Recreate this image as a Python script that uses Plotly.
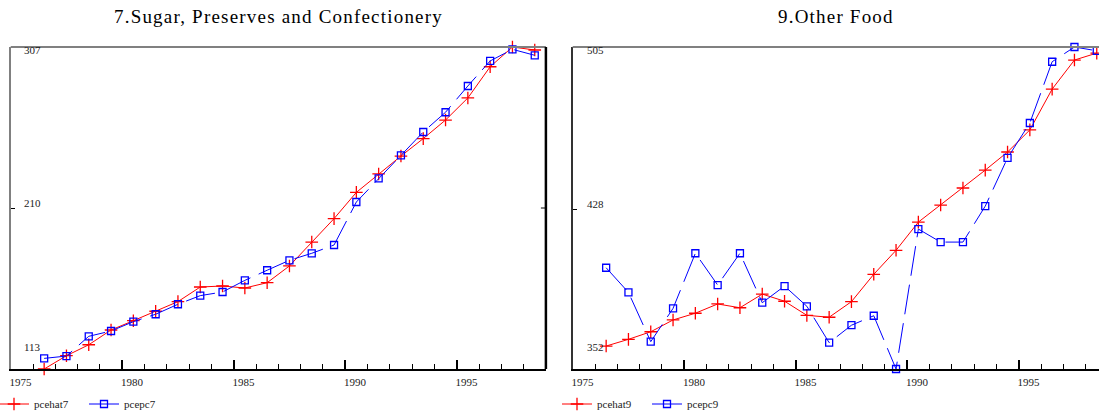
import plotly.graph_objects as go

# Annual observations, 1976-1998
years = list(range(1976, 1999))

# 7. Sugar, Preserves and Confectionery
pcehat7 = [113, 121, 127.6, 136.5, 142.1, 147.8, 153.6, 162.4, 163, 161.8, 165, 175.1,
           189.5, 203.6, 219.4, 230.5, 241.3, 251.8, 263, 276.3, 295.1, 307, 305.2]
pcepc7 = [119.4, 120.8, 132.7, 135.9, 141.5, 146, 152, 157.2, 159.4, 166.4, 172.5, 178.5,
          182.7, 187.7, 213.6, 227.9, 241.7, 255.8, 267.7, 283.5, 298.6, 305.6, 302]

# 9. Other Food
pcehat9 = [362.9, 366.1, 369.7, 375.3, 378.5, 382.9, 381.1, 387.6, 384.2, 377.5, 376.6, 384,
           397, 408.4, 421.8, 429.9, 438, 446.5, 455.1, 465.6, 485, 498.8, 502.1]
pcepc9 = [400.1, 388.4, 365, 380.8, 407, 391.9, 407, 383.5, 391.4, 381.8, 364.5, 372.8,
          377.3, 352, 418.5, 412.3, 412.3, 429.4, 452.3, 468.9, 498, 505, 503.2]

# Axis labels
year_ticks = [1975, 1980, 1985, 1990, 1995]
year_labels = ["1975", "1980", "1985", "1990", "1995"]
ylabels7 = [113, 210, 307]
ylabels9 = [352, 428, 505]

titles = ["7.Sugar, Preserves and Confectionery", "9.Other Food"]

W, H = 1099, 411
FONT = "Liberation Serif"
RED = "#ff0000"
BLUE = "#0000ff"
GRAY = "#808080"
TXT = "#222222"

# annual values are centred within their year
xpos = [y + 0.5 for y in years]

# pixel geometry of the two panels
PX_PER_YEAR = 22.3
L0, R0 = 10.7, 10.7 + 24 * PX_PER_YEAR
L1 = 572.7
TOP, BOT = 47, 369


def px(v):
    return v / W


def py(v):
    return 1 - v / H


fig = go.Figure()


def add_pair(hat, pc, names, xa, ya, legend):
    fig.add_trace(go.Scatter(
        x=xpos, y=hat, name=names[0], mode="lines+markers", xaxis=xa, yaxis=ya,
        legend=legend, cliponaxis=False,
        line=dict(color=RED, width=1),
        marker=dict(symbol="cross-thin", size=9, color=RED, line=dict(color=RED, width=1.3)),
    ))
    fig.add_trace(go.Scatter(
        x=xpos, y=pc, name=names[1], mode="lines+markers", xaxis=xa, yaxis=ya,
        legend=legend, cliponaxis=False,
        line=dict(color=BLUE, width=1, dash="30px,9px"),
        marker=dict(symbol="square-open", size=7, color=BLUE, line=dict(color=BLUE, width=1.3)),
    ))


add_pair(pcehat7, pcepc7, ["pcehat7", "pcepc7"], "x", "y", "legend")
add_pair(pcehat9, pcepc9, ["pcehat9", "pcepc9"], "x2", "y2", "legend2")

tickfont = dict(family=FONT, size=11, color=TXT)


def xaxis(domain, rng, anchor):
    return dict(
        domain=domain, range=rng, anchor=anchor,
        tickmode="array", tickvals=year_ticks, ticktext=year_labels,
        ticks="inside", ticklen=9, tickwidth=1.5, tickcolor="black",
        ticklabelposition="outside right", ticklabelshift=-3, ticklabelstandoff=2,
        tickfont=tickfont,
        minor=dict(tickvals=list(range(1975, 2000)), ticks="inside", ticklen=5,
                   tickwidth=1, tickcolor="black", showgrid=False),
        showline=True, linecolor="black", linewidth=2,
        showgrid=False, zeroline=False, fixedrange=True,
    )


def yaxis(rng, mid, anchor, linecolor):
    return dict(
        domain=[py(BOT), py(TOP)], range=rng, anchor=anchor,
        tickmode="array", tickvals=[mid], ticks="inside", ticklen=4, tickwidth=1,
        tickcolor="black", showticklabels=False,
        showline=True, linecolor=linecolor, linewidth=2,
        showgrid=False, zeroline=False, fixedrange=True,
    )


legend_font = dict(family=FONT, size=11, color=TXT)
fig.update_layout(
    width=W, height=H,
    margin=dict(l=0, r=0, t=0, b=0, autoexpand=False),
    paper_bgcolor="white", plot_bgcolor="white",
    xaxis=xaxis([px(L0), px(R0)], [1975, 1999], "y"),
    yaxis=yaxis([ylabels7[0], ylabels7[-1]], ylabels7[1], "x", GRAY),
    xaxis2=xaxis([px(L1), 1], [1975, 1975 + (W - L1) / PX_PER_YEAR], "y2"),
    yaxis2=yaxis([ylabels9[0], ylabels9[-1]], ylabels9[1], "x2", "#333333"),
    legend=dict(orientation="h", x=px(-6), y=py(404), xanchor="left", yanchor="middle",
                font=legend_font, bgcolor="rgba(0,0,0,0)", entrywidth=45),
    legend2=dict(orientation="h", x=px(557), y=py(404), xanchor="left", yanchor="middle",
                 font=legend_font, bgcolor="rgba(0,0,0,0)", entrywidth=45),
    showlegend=True,
)

# frame lines: grey top border on both panels, black right border on the left panel
shapes = [
    dict(type="line", xref="x domain", yref="y domain", x0=0, x1=1, y0=1, y1=1,
         line=dict(color=GRAY, width=2)),
    dict(type="line", xref="x domain", yref="y domain", x0=1, x1=1, y0=0, y1=1,
         line=dict(color="black", width=2.5)),
    dict(type="line", xref="x domain", yref="y", x0=1, x1=1 - 5 / (R0 - L0),
         y0=ylabels7[1], y1=ylabels7[1], line=dict(color="black", width=1)),
    dict(type="line", xref="x2 domain", yref="y2 domain", x0=0, x1=1, y0=1, y1=1,
         line=dict(color=GRAY, width=2)),
]
fig.update_layout(shapes=shapes)

annotations = []
# panel titles, centred over the visible part of each panel
for title, cx in zip(titles, [(L0 + R0) / 2, (L1 + W) / 2]):
    annotations.append(dict(
        text='<span style="letter-spacing:1.2px">' + title + "</span>",
        x=px(cx), y=py(17), xref="paper", yref="paper",
        xanchor="center", yanchor="middle", showarrow=False,
        font=dict(family=FONT, size=19, color="black")))

# value labels on the y axes (min, mid, max), placed just above each level
shifts = [22, 5, -3]
for vals, yref, xl in [(ylabels7, "y", 22), (ylabels9, "y2", 585)]:
    for v, s in zip(vals, shifts):
        annotations.append(dict(text=str(v), x=px(xl), y=v, xref="paper", yref=yref,
                                xanchor="left", yanchor="middle", yshift=s,
                                showarrow=False, font=tickfont))
fig.update_layout(annotations=annotations)

fig.write_html("out.html")
